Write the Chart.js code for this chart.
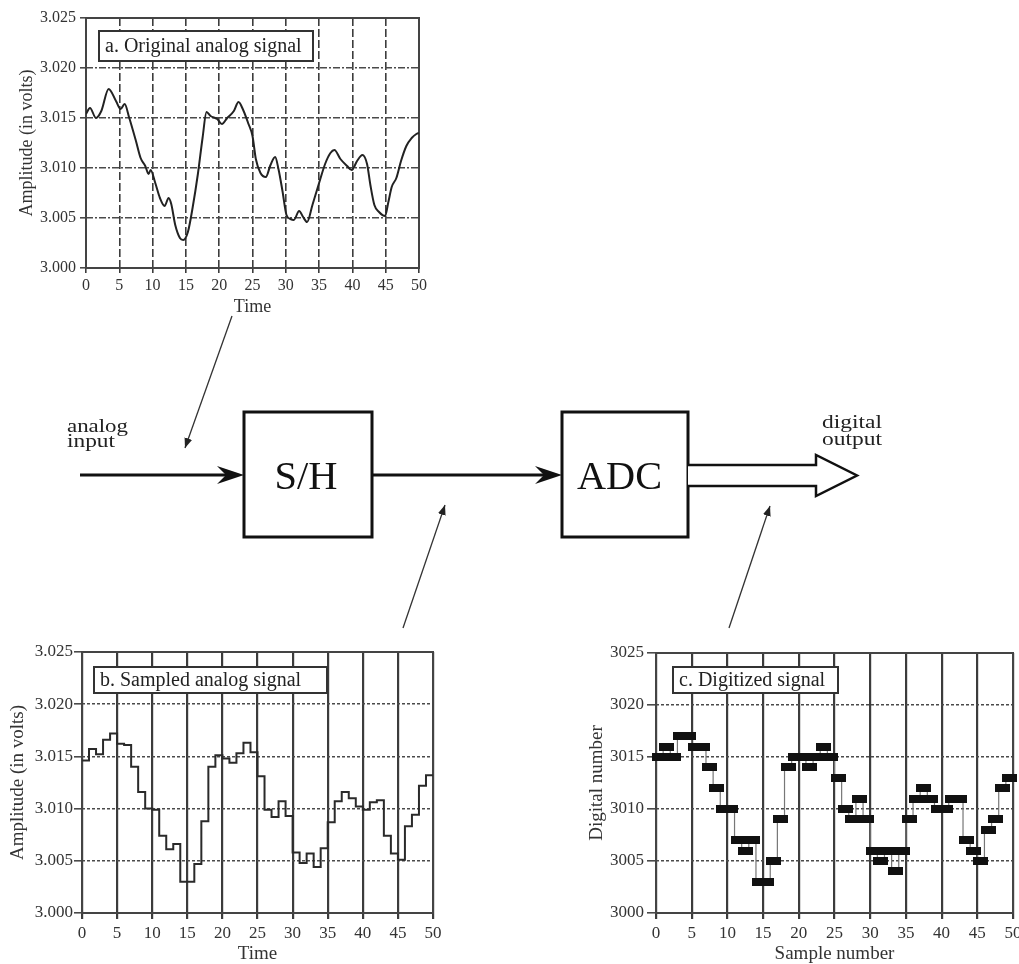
<!DOCTYPE html>
<html>
<head>
<meta charset="utf-8">
<title>Analog-to-digital conversion</title>
<script src="https://cdn.jsdelivr.net/npm/chart.js@4.4.1/dist/chart.umd.min.js"></script>
<style>
  html, body { margin: 0; padding: 0; background: #fff; overflow: hidden; }
  body { position: relative; width: 1019px; height: 964px; }
  canvas { position: absolute; }
  #chartA { left: 0; top: 0; }
  #chartB { left: 0; top: 630px; }
  #chartC { left: 580px; top: 630px; }
  #diagram { position: absolute; left: 0; top: 0; }
</style>
</head>
<body>
<canvas id="chartA" width="445" height="320"></canvas>
<canvas id="chartB" width="450" height="334"></canvas>
<canvas id="chartC" width="450" height="334"></canvas>

<svg id="diagram" width="1019" height="964" font-family="'Liberation Serif', 'DejaVu Serif', serif">
  <defs>
    <marker id="ptr" viewBox="0 0 10 8" refX="10" refY="4" markerWidth="10" markerHeight="8"
            markerUnits="userSpaceOnUse" orient="auto">
      <path d="M0,0 L10,4 L0,8 Z" fill="#222"/>
    </marker>
  </defs>

  <!-- analog input into the sample and hold -->
  <text x="67" y="432" font-size="19" fill="#222" textLength="61" lengthAdjust="spacingAndGlyphs">analog</text>
  <text x="67" y="447" font-size="19" fill="#222" textLength="48" lengthAdjust="spacingAndGlyphs">input</text>
  <line x1="80" y1="475" x2="228" y2="475" stroke="#111" stroke-width="3"/>
  <polygon points="244,475 217,466 226,475 217,484" fill="#111"/>

  <rect x="244" y="412" width="128" height="125" fill="none" stroke="#111" stroke-width="3"/>
  <text x="306" y="489" font-size="40" fill="#111" text-anchor="middle" textLength="63" lengthAdjust="spacingAndGlyphs">S/H</text>

  <line x1="372" y1="475" x2="546" y2="475" stroke="#111" stroke-width="3"/>
  <polygon points="562,475 535,466 544,475 535,484" fill="#111"/>

  <rect x="562" y="412" width="126" height="125" fill="none" stroke="#111" stroke-width="3"/>
  <text x="619.5" y="489" font-size="40" fill="#111" text-anchor="middle" textLength="85" lengthAdjust="spacingAndGlyphs">ADC</text>

  <!-- wide output arrow -->
  <path d="M688,465 H816 V455 L857,475.5 L816,496 V486 H688" fill="#fff" stroke="#111" stroke-width="2.5"/>
  <text x="822" y="428" font-size="19" fill="#222" textLength="60" lengthAdjust="spacingAndGlyphs">digital</text>
  <text x="822" y="445" font-size="19" fill="#222" textLength="60" lengthAdjust="spacingAndGlyphs">output</text>

  <!-- pointers from each plot to its place in the chain -->
  <line x1="232" y1="316" x2="185" y2="448" stroke="#333" stroke-width="1.3" marker-end="url(#ptr)"/>
  <line x1="403" y1="628" x2="445" y2="505" stroke="#333" stroke-width="1.3" marker-end="url(#ptr)"/>
  <line x1="729" y1="628" x2="770" y2="506" stroke="#333" stroke-width="1.3" marker-end="url(#ptr)"/>
</svg>

<script>
// a. original analog signal (time, volts)
const analogTime = [0, 0.6, 1.5, 2.3, 3.4, 4.5, 5.2, 5.8, 6.5, 7.5,
  8.2, 8.9, 9.4, 9.7, 10.4, 11.1, 11.8, 12.4, 12.8, 13.4,
  14.1, 14.6, 15.3, 16.0, 16.8, 17.5, 18.1, 18.7, 19.7, 20.4,
  21.2, 22.2, 22.9, 23.6, 24.4, 25.0, 25.5, 26.2, 27.0, 27.7,
  28.4, 28.9, 29.5, 30.1, 30.7, 31.2, 32.0, 32.6, 33.2, 34.0,
  35.0, 35.9, 36.7, 37.3, 38.2, 39.2, 39.9, 40.7, 41.5, 42.2,
  42.7, 43.3, 44.0, 44.9, 45.4, 45.9, 46.6, 47.3, 48.1, 48.9,
  49.6, 50];
const analogVolts = [3.0154, 3.0160, 3.0150, 3.0157, 3.0179, 3.0167, 3.0159, 3.0164, 3.0150, 3.0127,
  3.0110, 3.0102, 3.0094, 3.0098, 3.0085, 3.0070, 3.0062, 3.0070, 3.0064, 3.0043,
  3.0030, 3.0028, 3.0036, 3.0060, 3.0094, 3.0130, 3.0156, 3.0152, 3.0149, 3.0144,
  3.0150, 3.0157, 3.0166, 3.0158, 3.0144, 3.0132, 3.0109, 3.0095, 3.0091, 3.0103,
  3.0111, 3.0099, 3.0077, 3.0053, 3.0049, 3.0048, 3.0057, 3.0051, 3.0046, 3.0063,
  3.0085, 3.0104, 3.0115, 3.0118, 3.0109, 3.0102, 3.0098, 3.0107, 3.0113, 3.0104,
  3.0083, 3.0063, 3.0056, 3.0052, 3.0066, 3.0081, 3.0090, 3.0107, 3.0122, 3.0130,
  3.0134, 3.0135];

// b. sample-and-hold output, one held value per sample
const sampleNumber = [0, 1, 2, 3, 4, 5, 6, 7, 8, 9,
  10, 11, 12, 13, 14, 15, 16, 17, 18, 19,
  20, 21, 22, 23, 24, 25, 26, 27, 28, 29,
  30, 31, 32, 33, 34, 35, 36, 37, 38, 39,
  40, 41, 42, 43, 44, 45, 46, 47, 48, 49];
const sampledVolts = [3.0146, 3.0157, 3.0152, 3.0166, 3.0172, 3.0162, 3.0161, 3.0140, 3.0116, 3.0100,
  3.0099, 3.0074, 3.0061, 3.0066, 3.0030, 3.0030, 3.0047, 3.0088, 3.0140, 3.0151,
  3.0148, 3.0144, 3.0153, 3.0163, 3.0154, 3.0131, 3.0099, 3.0092, 3.0107, 3.0093,
  3.0058, 3.0048, 3.0057, 3.0044, 3.0062, 3.0087, 3.0107, 3.0116, 3.0110, 3.0102,
  3.0099, 3.0106, 3.0108, 3.0074, 3.0057, 3.0051, 3.0083, 3.0094, 3.0122, 3.0132];

// c. ADC output codes
const digitalCode = [3015, 3016, 3015, 3017, 3017, 3016, 3016, 3014, 3012, 3010,
  3010, 3007, 3006, 3007, 3003, 3003, 3005, 3009, 3014, 3015,
  3015, 3014, 3015, 3016, 3015, 3013, 3010, 3009, 3011, 3009,
  3006, 3005, 3006, 3004, 3006, 3009, 3011, 3012, 3011, 3010,
  3010, 3011, 3011, 3007, 3006, 3005, 3008, 3009, 3012, 3013];

// axis ticks
const xTicks = [0, 5, 10, 15, 20, 25, 30, 35, 40, 45, 50];
const voltTicks = [3.000, 3.005, 3.010, 3.015, 3.020, 3.025];
const codeTicks = [3000, 3005, 3010, 3015, 3020, 3025];

const SERIF = "'Liberation Serif', 'DejaVu Serif', serif";
Chart.defaults.font.family = SERIF;
Chart.defaults.color = '#333';

// dark frame round the plot area
const frame = {
  id: 'frame',
  beforeDatasetsDraw(chart) {
    const { ctx, chartArea: a } = chart;
    ctx.save();
    ctx.strokeStyle = '#444';
    ctx.lineWidth = 2;
    ctx.strokeRect(a.left, a.top, a.right - a.left, a.bottom - a.top);
    ctx.restore();
  }
};

// boxed caption in the upper left of each plot
const caption = {
  id: 'caption',
  beforeDatasetsDraw(chart, args, opts) {
    if (!opts.text) return;
    const { ctx, chartArea: a } = chart;
    const x = a.left + opts.dx, y = a.top + opts.dy;
    ctx.save();
    ctx.fillStyle = '#fff';
    ctx.fillRect(x, y, opts.w, opts.h);
    ctx.strokeStyle = '#333';
    ctx.lineWidth = 2;
    ctx.strokeRect(x, y, opts.w, opts.h);
    ctx.font = '20px ' + SERIF;
    ctx.fillStyle = '#222';
    ctx.textBaseline = 'middle';
    ctx.fillText(opts.text, x + 6, y + opts.h / 2 + 1);
    ctx.restore();
  }
};

function setTicks(list) {
  return scale => { scale.ticks = list.map(v => ({ value: v })); };
}

function xAxis(cfg) {
  return {
    type: 'linear', min: 0, max: 50,
    afterBuildTicks: setTicks(xTicks),
    afterFit: s => { s.height = cfg.height; },
    ticks: { autoSkip: false, maxRotation: 0, font: { size: cfg.tickSize }, color: '#333', padding: cfg.tickPad },
    grid: { color: '#3c3c3c', lineWidth: cfg.lineWidth, tickLength: cfg.tickLen },
    border: { display: false, dash: cfg.dash },
    title: { display: true, text: cfg.title, color: '#333',
             font: { size: cfg.titleSize, lineHeight: 1 }, padding: { top: 0, bottom: cfg.titlePad } }
  };
}

function yAxis(cfg) {
  return {
    min: cfg.ticks[0], max: cfg.ticks[cfg.ticks.length - 1],
    afterBuildTicks: setTicks(cfg.ticks),
    afterFit: s => { s.width = cfg.width; },
    ticks: { autoSkip: false, font: { size: cfg.tickSize }, color: '#333', padding: cfg.tickPad,
             callback: cfg.format },
    grid: { color: '#4a4a4a', lineWidth: 1.6, tickLength: cfg.tickLen },
    border: { display: false, dash: cfg.dash },
    title: { display: true, text: cfg.title, color: '#333',
             font: { size: cfg.titleSize, lineHeight: 1 }, padding: { top: cfg.titlePad, bottom: 0 } }
  };
}

const volts = v => v.toFixed(3);

// a. original analog signal
new Chart(document.getElementById('chartA'), {
  type: 'line',
  data: {
    datasets: [{
      data: analogTime.map((t, i) => ({ x: t, y: analogVolts[i] })),
      borderColor: '#222',
      borderWidth: 2,
      pointRadius: 0,
      cubicInterpolationMode: 'monotone'
    }]
  },
  options: {
    responsive: false, animation: false, events: [],
    layout: { padding: { top: 18, right: 26, left: 0, bottom: 0 } },
    plugins: {
      legend: { display: false }, tooltip: { enabled: false },
      caption: { text: 'a. Original analog signal', dx: 13, dy: 13, w: 214, h: 30 }
    },
    scales: {
      x: xAxis({ height: 52, tickSize: 16, tickPad: 3, tickLen: 5, lineWidth: 1.6, dash: [8, 3],
                 title: 'Time', titleSize: 18, titlePad: 4 }),
      y: yAxis({ ticks: voltTicks, width: 86, tickSize: 16, tickPad: 4, tickLen: 6, dash: [7, 2, 2, 2],
                 format: volts, title: 'Amplitude (in volts)', titleSize: 18, titlePad: 18 })
    }
  },
  plugins: [frame, caption]
});

// b. sampled analog signal: each value is held until the next sample
const held = sampleNumber.map((n, i) => ({ x: n, y: sampledVolts[i] }));
held.push({ x: sampleNumber.length, y: sampledVolts[sampledVolts.length - 1] });

new Chart(document.getElementById('chartB'), {
  type: 'line',
  data: {
    datasets: [{
      data: held,
      stepped: true,
      borderColor: '#2a2a2a',
      borderWidth: 2,
      pointRadius: 0
    }]
  },
  options: {
    responsive: false, animation: false, events: [],
    layout: { padding: { top: 22, right: 17, left: 0, bottom: 0 } },
    plugins: {
      legend: { display: false }, tooltip: { enabled: false },
      caption: { text: 'b. Sampled analog signal', dx: 12, dy: 15, w: 233, h: 26 }
    },
    scales: {
      x: xAxis({ height: 51, tickSize: 17, tickPad: 4, tickLen: 6, lineWidth: 2.2, dash: [],
                 title: 'Time', titleSize: 19, titlePad: 0.5 }),
      y: yAxis({ ticks: voltTicks, width: 82, tickSize: 17, tickPad: 1, tickLen: 8, dash: [3, 2],
                 format: volts, title: 'Amplitude (in volts)', titleSize: 19, titlePad: 8.5 })
    }
  },
  plugins: [frame, caption]
});

// c. digitized signal: one black block per sample, centred in its interval
const block = document.createElement('canvas');
block.width = 15;
block.height = 8;
const bctx = block.getContext('2d');
bctx.fillStyle = '#111';
bctx.fillRect(0, 0, block.width, block.height);

new Chart(document.getElementById('chartC'), {
  type: 'line',
  data: {
    datasets: [{
      data: sampleNumber.map((n, i) => ({ x: n + 0.5, y: digitalCode[i] })),
      stepped: 'middle',
      borderColor: '#777',
      borderWidth: 1.2,
      pointStyle: block,
      pointRadius: 4,
      clip: 12
    }]
  },
  options: {
    responsive: false, animation: false, events: [],
    layout: { padding: { top: 23, right: 17, left: 0, bottom: 0 } },
    plugins: {
      legend: { display: false }, tooltip: { enabled: false },
      caption: { text: 'c. Digitized signal', dx: 17, dy: 14, w: 165, h: 26 }
    },
    scales: {
      x: xAxis({ height: 51, tickSize: 17, tickPad: 4, tickLen: 6, lineWidth: 2.2, dash: [],
                 title: 'Sample number', titleSize: 19, titlePad: 0.5 }),
      y: yAxis({ ticks: codeTicks, width: 76, tickSize: 17, tickPad: 3, tickLen: 9, dash: [3, 2],
                 format: v => String(v), title: 'Digital number', titleSize: 19, titlePad: 7.5 })
    }
  },
  plugins: [frame, caption]
});
</script>
</body>
</html>
